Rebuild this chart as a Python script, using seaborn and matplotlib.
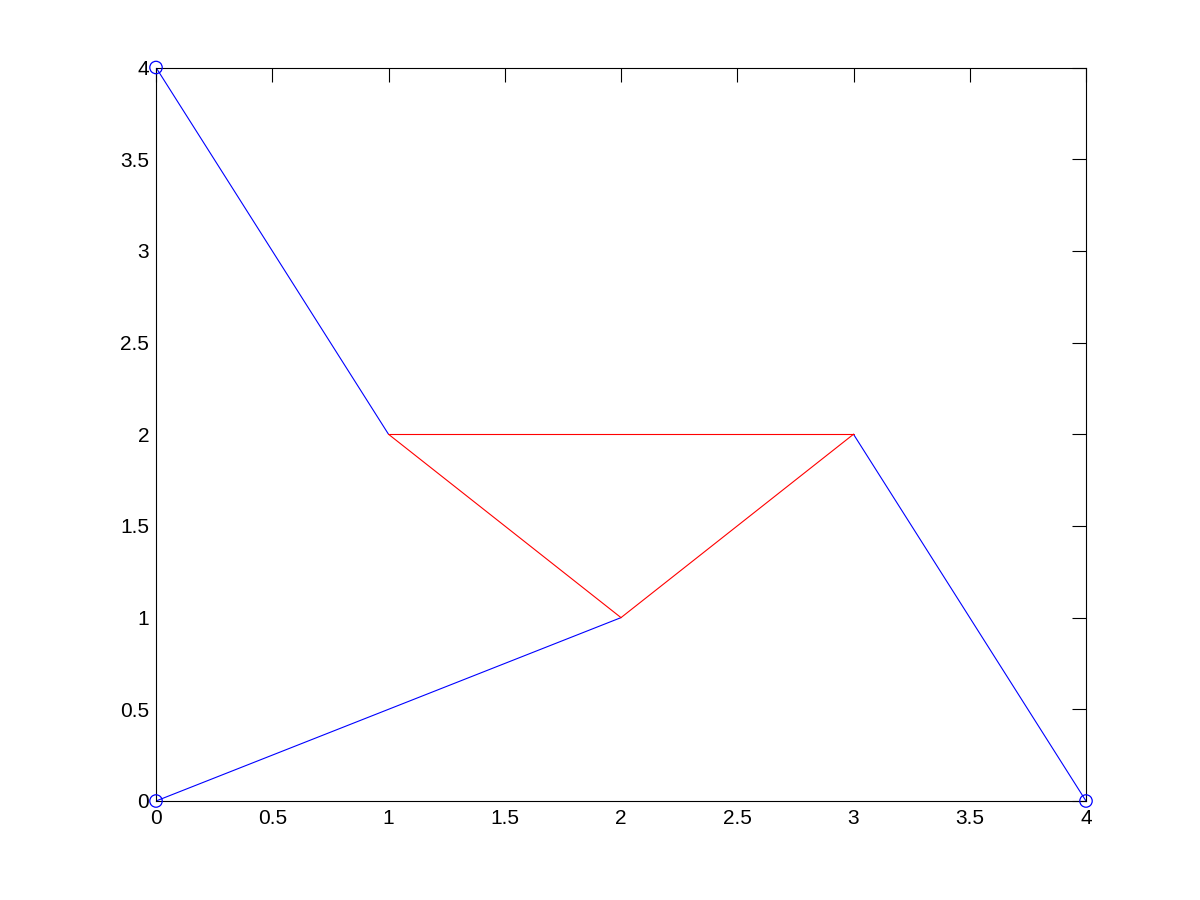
import numpy as np
import pandas as pd
import matplotlib
matplotlib.use("Agg")
import matplotlib.pyplot as plt
import seaborn as sns

# segment endpoints (x1, y1, x2, y2)
blue_x1 = [0, 0, 3]
blue_y1 = [4, 0, 2]
blue_x2 = [1, 2, 4]
blue_y2 = [2, 1, 0]

red_x1 = [1, 1, 2]
red_y1 = [2, 2, 1]
red_x2 = [3, 2, 3]
red_y2 = [2, 1, 2]

# circled support nodes
node_x = [0, 0, 4]
node_y = [4, 0, 0]

xticks = [0, 0.5, 1, 1.5, 2, 2.5, 3, 3.5, 4]
yticks = [0, 0.5, 1, 1.5, 2, 2.5, 3, 3.5, 4]


def segments(x1, y1, x2, y2, group):
    rows = []
    for i in range(len(x1)):
        rows.append({"x": x1[i], "y": y1[i], "seg": f"{group}{i}"})
        rows.append({"x": x2[i], "y": y2[i], "seg": f"{group}{i}"})
    return pd.DataFrame(rows)


sns.set_style("white")
plt.rcParams["font.family"] = ["Liberation Sans", "DejaVu Sans"]

fig = plt.figure(figsize=(12, 9), dpi=100)
ax = fig.add_axes([0.13, 0.11, 0.775, 0.815])

df_blue = segments(blue_x1, blue_y1, blue_x2, blue_y2, "b")
df_red = segments(red_x1, red_y1, red_x2, red_y2, "r")

sns.lineplot(data=df_blue, x="x", y="y", units="seg", estimator=None, sort=False,
             color="#0000ff", linewidth=0.8, ax=ax)
sns.lineplot(data=df_red, x="x", y="y", units="seg", estimator=None, sort=False,
             color="#ff0000", linewidth=0.8, ax=ax)
sns.scatterplot(x=node_x, y=node_y, marker="o", s=80, facecolors="none",
                edgecolor="#0000ff", linewidth=0.9, ax=ax, clip_on=False, zorder=5)

ax.set_xlim(0, 4)
ax.set_ylim(0, 4)
ax.set_xticks(xticks)
ax.set_yticks(yticks)
ax.set_xticklabels([f"{t:g}" for t in xticks])
ax.set_yticklabels([f"{t:g}" for t in yticks])
ax.set_xlabel("")
ax.set_ylabel("")
ax.tick_params(direction="in", length=10, width=0.8, top=True, right=True,
               labelsize=15, colors="black")
ax.tick_params(axis="y", pad=5)
ax.tick_params(axis="x", pad=6)
for s in ax.spines.values():
    s.set_visible(True)
    s.set_color("black")
    s.set_linewidth(0.8)

fig.savefig("out.png", dpi=100, facecolor="white")
